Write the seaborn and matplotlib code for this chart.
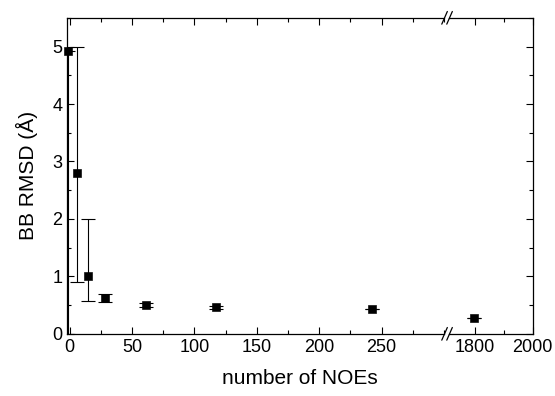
import numpy as np
import pandas as pd
import seaborn as sns
import matplotlib.pyplot as plt
from matplotlib.ticker import MultipleLocator

sns.set_style("ticks")
plt.rcParams['font.family'] = ['Liberation Sans', 'DejaVu Sans']
plt.rcParams['text.color'] = 'black'
plt.rcParams['axes.labelcolor'] = 'black'
plt.rcParams['xtick.color'] = 'black'
plt.rcParams['ytick.color'] = 'black'
plt.rcParams['axes.edgecolor'] = 'black'

# data
noes = [-1, 6, 15, 28, 61, 117, 242, 1795]
rmsd = [4.93, 2.8, 1.0, 0.62, 0.5, 0.46, 0.44, 0.27]
err_lo = [0.0, 0.9, 0.57, 0.56, 0.47, 0.44, 0.44, 0.27]
err_hi = [4.93, 5.0, 2.0, 0.7, 0.54, 0.48, 0.44, 0.27]

df = pd.DataFrame({"noes": noes, "rmsd": rmsd, "lo": err_lo, "hi": err_hi})
df["yerr_lo"] = df["rmsd"] - df["lo"]
df["yerr_hi"] = df["hi"] - df["rmsd"]

fig = plt.figure(figsize=(5.55, 3.96), dpi=100)
ax1 = fig.add_axes([0.121, 0.157, 0.679, 0.798])
ax2 = fig.add_axes([0.809, 0.157, 0.151, 0.798])

for ax, xlim in [(ax1, (-2, 300)), (ax2, (1710, 2000))]:
    ax.errorbar(df["noes"], df["rmsd"], yerr=[df["yerr_lo"], df["yerr_hi"]],
                fmt="none", ecolor="black", elinewidth=0.8, capsize=5, capthick=0.8)
    ax.set_xlim(*xlim)
    ax.set_ylim(0, 5.5)
    vis = df[(df["noes"] >= xlim[0] - 5) & (df["noes"] <= xlim[1])]
    sns.scatterplot(data=vis, x="noes", y="rmsd", ax=ax, marker="s", s=30,
                    color="black", edgecolor="black", zorder=3, legend=False,
                    clip_on=False)
    ax.set_xlim(*xlim)
    ax.set_ylim(0, 5.5)
    ax.set_xlabel("")
    ax.set_ylabel("")
    ax.tick_params(direction="in", which="both", top=True, labelsize=13, length=5, width=0.8)
    ax.tick_params(which="minor", length=3)
    for sp in ax.spines.values():
        sp.set_linewidth(0.9)

ax1.spines["right"].set_visible(False)
ax2.spines["left"].set_visible(False)
ax1.tick_params(right=False, which="both")
ax2.tick_params(left=False, labelleft=False, right=True, which="both")

ax1.xaxis.set_major_locator(MultipleLocator(50))
ax1.xaxis.set_minor_locator(MultipleLocator(25))
ax1.set_xticks([0, 50, 100, 150, 200, 250])
ax1.yaxis.set_major_locator(MultipleLocator(1))
ax1.yaxis.set_minor_locator(MultipleLocator(0.5))
ax2.set_xticks([1800, 2000])
ax2.xaxis.set_minor_locator(MultipleLocator(100))
ax2.yaxis.set_major_locator(MultipleLocator(1))
ax2.yaxis.set_minor_locator(MultipleLocator(0.5))

# break marks
for y in (0, 1):
    for dx in (0.0, 0.009):
        fig.add_artist(plt.Line2D([0.796 + dx, 0.806 + dx], [0.157 + 0.798 * y - 0.016, 0.157 + 0.798 * y + 0.016],
                                  color="black", lw=0.9, transform=fig.transFigure))

ax1.set_ylabel("BB RMSD (Å)", fontsize=15, labelpad=10)
fig.text(0.54, 0.03, "number of NOEs", fontsize=15, ha="center")

plt.savefig("out.png", dpi=100)
